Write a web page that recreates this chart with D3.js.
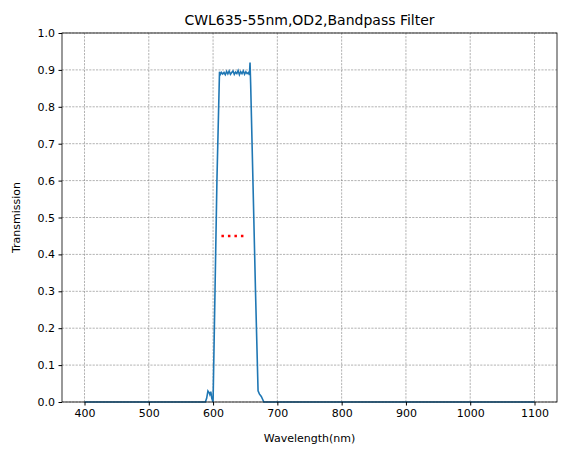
<!DOCTYPE html>
<html><head><meta charset="utf-8">
<script src="https://cdn.jsdelivr.net/npm/d3@7"></script>
<style>body{margin:0;background:#fff}text{font-family:"DejaVu Sans",sans-serif}</style>
</head><body><div id="chart"></div>
<script>
const title = 'CWL635-55nm,OD2,Bandpass Filter';
const xTicks = [400, 500, 600, 700, 800, 900, 1000, 1100];
const yTicks = [0, 0.1, 0.2, 0.3, 0.4, 0.5, 0.6, 0.7, 0.8, 0.9, 1.0];
const wavelength = [400, 588, 590, 592, 594, 595, 596.5, 598, 600, 602, 606, 610, 611, 613, 615, 617, 619, 621, 623, 625, 627, 629, 631, 633, 635, 637, 639, 641, 643, 645, 647, 649, 651, 653, 655, 656.5, 657.5, 658.5, 662, 666, 670, 672, 675, 679, 1100];
const transmission = [0, 0, 0.01, 0.03, 0.025, 0.02, 0.028, 0.01, 0.0, 0.2, 0.6, 0.895, 0.887, 0.893, 0.889, 0.893, 0.887, 0.896, 0.889, 0.897, 0.888, 0.893, 0.897, 0.888, 0.894, 0.89, 0.898, 0.887, 0.895, 0.89, 0.897, 0.888, 0.895, 0.89, 0.893, 0.886, 0.92, 0.86, 0.6, 0.3, 0.03, 0.022, 0.015, 0, 0];
const cwlLine = [[613, 0.45], [649, 0.45]];

const width = 567, height = 455;
const m = { left: 62, right: 10, top: 33, bottom: 53 };
const svg = d3.select('#chart').append('svg').attr('width', width).attr('height', height);
const x = d3.scaleLinear().domain([365, 1135]).range([m.left, width - m.right]);
const y = d3.scaleLinear().domain([0, 1]).range([height - m.bottom, m.top]);

// grid
const grid = svg.append('g').attr('stroke', '#808080').attr('stroke-width', 0.6).attr('stroke-dasharray', '2.2,1.2');
grid.selectAll('.gx').data(xTicks).join('line').attr('x1', d => x(d)).attr('x2', d => x(d)).attr('y1', y(0)).attr('y2', y(1));
grid.selectAll('.gy').data(yTicks).join('line').attr('y1', d => y(d)).attr('y2', d => y(d)).attr('x1', m.left).attr('x2', width - m.right);

const line = d3.line().x((d, i) => x(wavelength[i])).y(d => y(d));
svg.append('path').datum(transmission).attr('d', line).attr('fill', 'none').attr('stroke', '#1f77b4').attr('stroke-width', 1.6);

svg.append('path').datum(cwlLine).attr('d', d3.line().x(d => x(d[0])).y(d => y(d[1])))
  .attr('fill', 'none').attr('stroke', 'red').attr('stroke-width', 2.5).attr('stroke-dasharray', '2.5,4');

const ax = svg.append('g').attr('transform', `translate(0,${y(0)})`).call(d3.axisBottom(x).tickValues(xTicks).tickSize(3.5).tickPadding(3.5).tickFormat(d3.format('d')));
const ay = svg.append('g').attr('transform', `translate(${m.left},0)`).call(d3.axisLeft(y).tickValues(yTicks).tickSize(3.5).tickPadding(3.5).tickFormat(d3.format('.1f')));
[ax, ay].forEach(a => { a.selectAll('text').attr('font-size', 11).attr('fill', '#000'); a.select('.domain').remove(); });
svg.append('rect').attr('x', m.left).attr('y', m.top).attr('width', width - m.left - m.right).attr('height', height - m.top - m.bottom)
  .attr('fill', 'none').attr('stroke', '#000').attr('stroke-width', 0.8);

svg.append('text').attr('x', (m.left + width - m.right) / 2).attr('y', 25).attr('text-anchor', 'middle').attr('font-size', 14).text(title);
svg.append('text').attr('x', (m.left + width - m.right) / 2).attr('y', 442).attr('text-anchor', 'middle').attr('font-size', 11).text('Wavelength(nm)');
svg.append('text').attr('transform', `translate(20,${(m.top + height - m.bottom) / 2}) rotate(-90)`).attr('text-anchor', 'middle').attr('font-size', 11).text('Transmission');
</script></body></html>
